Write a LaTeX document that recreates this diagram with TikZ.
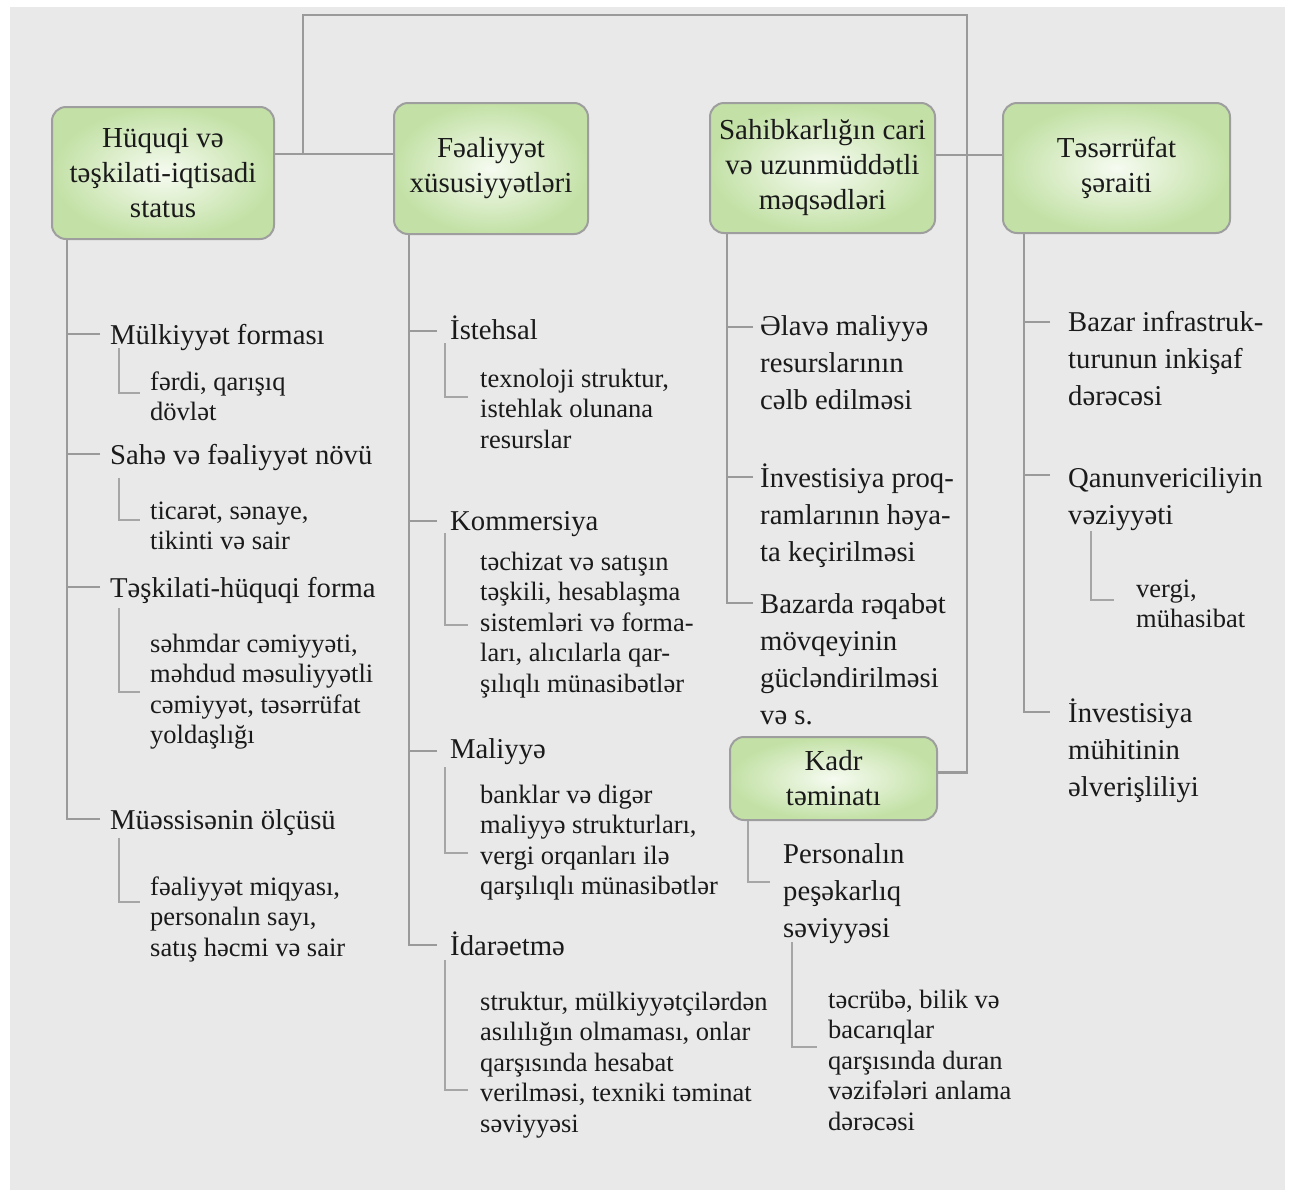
\documentclass[tikz,border=0pt]{standalone}
\usepackage{fontspec}
\setmainfont{Liberation Serif}
\definecolor{panel}{HTML}{E9E9E9}
\definecolor{boxin}{HTML}{F6FBF1}
\definecolor{boxout}{HTML}{C3E1A6}
\definecolor{boxline}{HTML}{9E9E9E}
\definecolor{conn}{HTML}{9A9A9A}
\definecolor{subconn}{HTML}{A6A6A6}
\definecolor{txt}{HTML}{1A1A1A}
\newcommand\mltext[1]{\begin{tabular}[t]{@{}l@{}}#1\end{tabular}}
\tikzset{
  box/.style={draw=boxline, line width=2pt, rounded corners=14pt,
    inner color=boxin, outer color=boxout, align=center, inner sep=0pt,
    text=txt, font=\fontsize{29}{35}\selectfont},
  mt/.style={anchor=base west, inner sep=0pt, text=txt,
    font=\fontsize{28.7}{37.3}\selectfont},
  st/.style={anchor=base west, inner sep=0pt, text=txt,
    font=\fontsize{26.5}{30.5}\selectfont},
  ln/.style={draw=conn, line width=2.6pt},
  sl/.style={draw=subconn, line width=2pt},
}
\begin{document}
\begin{tikzpicture}[x=1pt,y=-1pt]
\useasboundingbox (0,0) rectangle (1294,1197);
\fill[white] (0,0) rectangle (1294,1197);
\fill[panel] (10,7) rectangle (1285,1190);

% top boxes
\node[box, minimum width=222pt, minimum height=132pt] (b1) at (163,173) {Hüquqi və\\təşkilati-iqtisadi\\status};
\node[box, minimum width=194pt, minimum height=131pt] (b2) at (491,168.5) {Fəaliyyət\\xüsusiyyətləri};
\node[box, minimum width=225pt, minimum height=130pt] (b3) at (822.5,168) {Sahibkarlığın cari\\və uzunmüddətli\\məqsədləri};
\node[box, minimum width=227pt, minimum height=130pt] (b4) at (1116.5,168) {Təsərrüfat\\şəraiti};
\node[box, minimum width=207pt, minimum height=83pt] (kadr) at (833.5,778.5) {Kadr\\təminatı};

% top connectors
\coordinate (hub) at (303,154);
\coordinate (topL) at (303,15);
\coordinate (topR) at (967,15);
\coordinate (hub2) at (967,155);
\draw[ln] (hub -| b1.east) -- (hub -| b2.west);
\draw[ln] (hub) -- (topL) -- (topR) |- ([yshift=6pt]kadr.east);
\draw[ln] (hub2 -| b3.east) -- (hub2 -| b4.west);

% column 1
\node[mt] (m1) at (110,344) {Mülkiyyət forması};
\node[st] (s1) at (150,390) {\mltext{fərdi, qarışıq\\dövlət}};
\node[mt] (m2) at (110,464) {Sahə və fəaliyyət növü};
\node[st] (s2) at (150,519) {\mltext{ticarət, sənaye,\\tikinti və sair}};
\node[mt] (m3) at (110,597) {Təşkilati-hüquqi forma};
\node[st] (s3) at (150,652) {\mltext{səhmdar cəmiyyəti,\\məhdud məsuliyyətli\\cəmiyyət, təsərrüfat\\yoldaşlığı}};
\node[mt] (m4) at (110,829) {Müəssisənin ölçüsü};
\node[st] (s4) at (150,895) {\mltext{fəaliyyət miqyası,\\personalın sayı,\\satış həcmi və sair}};

\coordinate (v1) at ([xshift=16pt]b1.south west);
\coordinate (t11) at ([xshift=-10pt,yshift=10pt]m1.base west);
\coordinate (t12) at ([xshift=-10pt,yshift=10pt]m2.base west);
\coordinate (t13) at ([xshift=-10pt,yshift=10pt]m3.base west);
\coordinate (t14) at ([xshift=-10pt,yshift=10pt]m4.base west);
\draw[ln] (v1) |- (t14);
\draw[ln] (t11) -- (t11 -| v1);
\draw[ln] (t12) -- (t12 -| v1);
\draw[ln] (t13) -- (t13 -| v1);
\draw[sl] ([xshift=9pt,yshift=-4pt]m1.base west) |- ([xshift=-10pt,yshift=-3pt]s1.base west);
\draw[sl] ([xshift=9pt,yshift=-14pt]m2.base west) |- ([xshift=-10pt,yshift=-1pt]s2.base west);
\draw[sl] ([xshift=9pt,yshift=-11pt]m3.base west) |- ([xshift=-10pt,yshift=-40pt]s3.base west);
\draw[sl] ([xshift=9pt,yshift=-9pt]m4.base west) |- ([xshift=-10pt,yshift=-7pt]s4.base west);

% column 2
\node[mt] (n1) at (450,339) {İstehsal};
\node[st] (u1) at (480,387) {\mltext{texnoloji struktur,\\istehlak olunana\\resurslar}};
\node[mt] (n2) at (450,530) {Kommersiya};
\node[st] (u2) at (480,570) {\mltext{təchizat və satışın\\təşkili, hesablaşma\\sistemləri və forma-\\ları, alıcılarla qar-\\şılıqlı münasibətlər}};
\node[mt] (n3) at (450,758) {Maliyyə};
\node[st] (u3) at (480,803) {\mltext{banklar və digər\\maliyyə strukturları,\\vergi orqanları ilə\\qarşılıqlı münasibətlər}};
\node[mt] (n4) at (450,955) {İdarəetmə};
\node[st] (u4) at (480,1010) {\mltext{struktur, mülkiyyətçilərdən\\asılılığın olmaması, onlar\\qarşısında hesabat\\verilməsi, texniki təminat\\səviyyəsi}};

\coordinate (v2) at ([xshift=16pt]b2.south west);
\coordinate (t21) at ([xshift=-13pt,yshift=8pt]n1.base west);
\coordinate (t22) at ([xshift=-13pt,yshift=9pt]n2.base west);
\coordinate (t23) at ([xshift=-13pt,yshift=7pt]n3.base west);
\coordinate (t24) at ([xshift=-13pt,yshift=10pt]n4.base west);
\draw[ln] (v2) |- (t24);
\draw[ln] (t21) -- (t21 -| v2);
\draw[ln] (t22) -- (t22 -| v2);
\draw[ln] (t23) -- (t23 -| v2);
\draw[sl] ([xshift=-5pt,yshift=-4pt]n1.base west) |- ([xshift=-12pt,yshift=-10pt]u1.base west);
\draw[sl] ([xshift=-5pt,yshift=-3pt]n2.base west) |- ([xshift=-12pt,yshift=-55pt]u2.base west);
\draw[sl] ([xshift=-5pt,yshift=-9pt]n3.base west) |- ([xshift=-12pt,yshift=-50pt]u3.base west);
\draw[sl] ([xshift=-5pt,yshift=-5pt]n4.base west) |- ([xshift=-12pt,yshift=-80pt]u4.base west);

% column 3
\node[mt] (g1) at (760,335) {\mltext{Əlavə maliyyə\\resurslarının\\cəlb edilməsi}};
\node[mt] (g2) at (760,487) {\mltext{İnvestisiya proq-\\ramlarının həya-\\ta keçirilməsi}};
\node[mt] (g3) at (760,613) {\mltext{Bazarda rəqabət\\mövqeyinin\\gücləndirilməsi\\və s.}};
\coordinate (v3) at ([xshift=18pt]b3.south west);
\coordinate (t31) at ([xshift=-7pt,yshift=8pt]g1.base west);
\coordinate (t32) at ([xshift=-7pt,yshift=10pt]g2.base west);
\coordinate (t33) at ([xshift=-7pt,yshift=10pt]g3.base west);
\draw[ln] (v3) |- (t33);
\draw[ln] (t31) -- (t31 -| v3);
\draw[ln] (t32) -- (t32 -| v3);

% kadr
\node[mt] (p1) at (783,863) {\mltext{Personalın\\peşəkarlıq\\səviyyəsi}};
\node[st] (p2) at (828,1008) {\mltext{təcrübə, bilik və\\bacarıqlar\\qarşısında duran\\vəzifələri anlama\\dərəcəsi}};
\draw[sl] ([xshift=19pt]kadr.south west) |- ([xshift=-13pt,yshift=-19pt]p1.base west);
\draw[sl] ([xshift=9pt,yshift=-79pt]p1.base west) |- ([xshift=-11pt,yshift=-39pt]p2.base west);

% column 4
\node[mt] (h1) at (1068,331) {\mltext{Bazar infrastruk-\\turunun inkişaf\\dərəcəsi}};
\node[mt] (h2) at (1068,487) {\mltext{Qanunvericiliyin\\vəziyyəti}};
\node[st] (h2s) at (1136,597) {\mltext{vergi,\\mühasibat}};
\node[mt] (h3) at (1068,722) {\mltext{İnvestisiya\\mühitinin\\əlverişliliyi}};
\coordinate (v4) at ([xshift=22pt]b4.south west);
\coordinate (t41) at ([xshift=-18pt,yshift=9pt]h1.base west);
\coordinate (t42) at ([xshift=-18pt,yshift=12pt]h2.base west);
\coordinate (t43) at ([xshift=-18pt,yshift=10pt]h3.base west);
\draw[ln] (v4) |- (t43);
\draw[ln] (t41) -- (t41 -| v4);
\draw[ln] (t42) -- (t42 -| v4);
\draw[sl] ([xshift=23pt,yshift=-44pt]h2.base west) |- ([xshift=-22pt,yshift=-3pt]h2s.base west);
\end{tikzpicture}
\end{document}
